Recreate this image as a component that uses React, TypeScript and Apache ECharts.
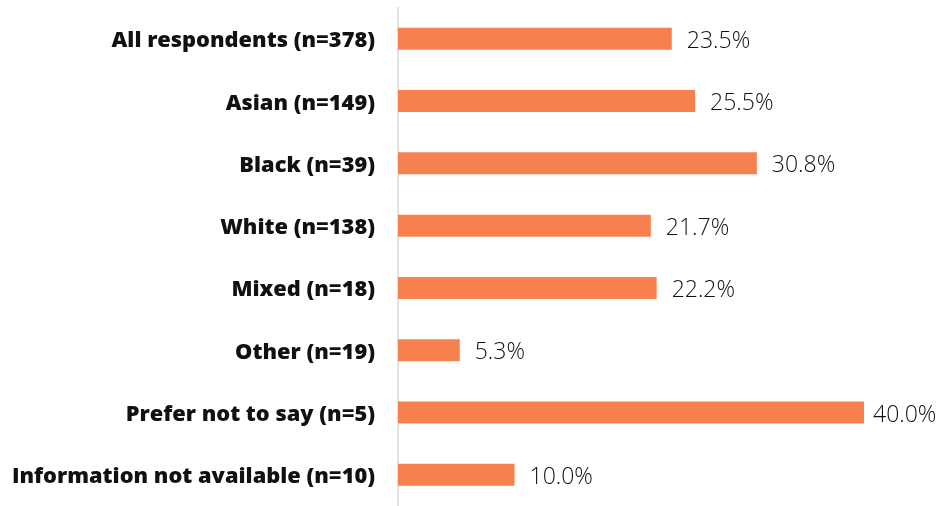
import React, { useEffect, useRef } from "react";
import * as echarts from "echarts";

const categories = [
  "All respondents (n=378)",
  "Asian (n=149)",
  "Black (n=39)",
  "White (n=138)",
  "Mixed (n=18)",
  "Other (n=19)",
  "Prefer not to say (n=5)",
  "Information not available (n=10)",
];
const values = [23.5, 25.5, 30.8, 21.7, 22.2, 5.3, 40.0, 10.0];

export default function App() {
  const ref = useRef<HTMLDivElement>(null);
  useEffect(() => {
    if (!ref.current) return;
    const chart = echarts.init(ref.current, null, { renderer: "svg" });
    const maxV = Math.max(...values);
    chart.setOption({
      animation: false,
      grid: { left: 398, top: 7.6, width: 466, height: 502.7, containLabel: false },
      xAxis: {
        type: "value",
        min: 0,
        max: 40,
        show: false,
      },
      yAxis: {
        type: "category",
        data: categories,
        inverse: true,
        axisLine: { show: true, lineStyle: { color: "#d9d9d9", width: 1.5 } },
        axisTick: { show: false },
        axisLabel: {
          margin: 23,
          fontFamily: "Open Sans",
          fontWeight: 800,
          fontSize: 21.8,
          color: "#111111",
        },
      },
      series: [
        {
          type: "bar",
          data: values.map((v) =>
            v === maxV ? { value: v, label: { distance: 9 } } : v
          ),
          barWidth: 22,
          itemStyle: { color: "#F7804F" },
          label: {
            show: true,
            position: "right",
            distance: 15,
            fontFamily: "Open Sans",
            fontWeight: 300,
            fontSize: 23,
            color: "#111111",
            formatter: (p: any) => p.value.toFixed(1) + "%",
          },
        },
      ],
    });
    return () => chart.dispose();
  }, []);
  return <div ref={ref} style={{ width: 946, height: 506, position: "fixed", left: 0, top: 0 }} />;
}
